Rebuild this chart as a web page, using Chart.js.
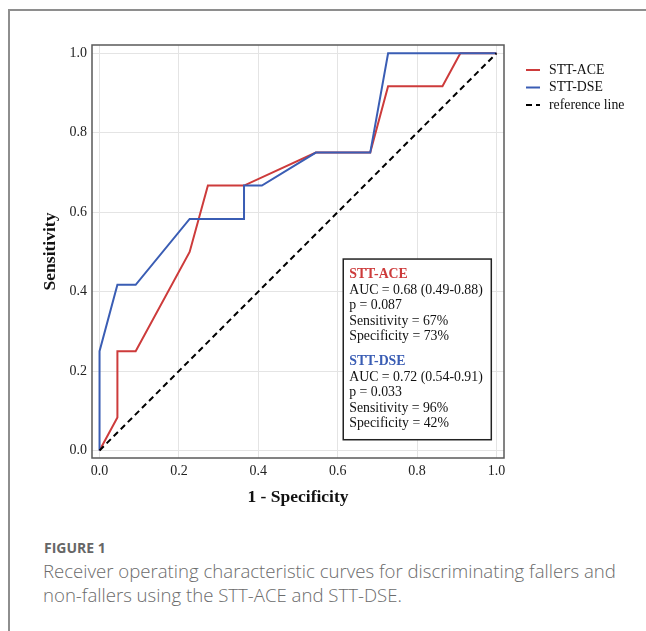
<!DOCTYPE html>
<html>
<head>
<meta charset="utf-8">
<script src="https://cdn.jsdelivr.net/npm/chart.js@4.4.0/dist/chart.umd.min.js"></script>
<style>
body { margin: 0; background: #fff; }
#wrap { position: relative; width: 646px; height: 631px; overflow: hidden; background: #fff; }
#frame { position: absolute; left: 8px; top: 9px; width: 700px; height: 700px; border-top: 2px solid #8e8e8e; border-left: 2px solid #8e8e8e; }
#roc { position: absolute; left: 0; top: 0; }
.fig { position: absolute; left: 44px; top: 538px; font-family: "Open Sans", sans-serif; font-weight: 700; font-size: 14px; line-height: 20px; color: #666; }
.cap { position: absolute; left: 43px; top: 559px; width: 600px; font-family: "Open Sans", sans-serif; font-weight: 300; font-size: 18.6px; line-height: 24px; color: #6b6b6b; white-space: nowrap; }
</style>
</head>
<body>
<div id="wrap">
  <div id="frame"></div>
  <canvas id="roc" width="646" height="520"></canvas>
  <div class="fig">FIGURE 1</div>
  <div class="cap">Receiver operating characteristic curves for discriminating fallers and<br>non-fallers using the STT-ACE and STT-DSE.</div>
</div>
<script>
// ROC points
const seriesNames = ['STT-ACE', 'STT-DSE', 'reference line'];
const fprAce = [0, 0.045, 0.045, 0.091, 0.227, 0.273, 0.364, 0.545, 0.682, 0.727, 0.864, 0.909, 1];
const tprAce = [0, 0.083, 0.25, 0.25, 0.5, 0.667, 0.667, 0.75, 0.75, 0.917, 0.917, 1, 1];
const fprDse = [0, 0, 0.045, 0.091, 0.227, 0.364, 0.364, 0.409, 0.545, 0.682, 0.727, 1];
const tprDse = [0, 0.25, 0.417, 0.417, 0.583, 0.583, 0.667, 0.667, 0.75, 0.75, 1, 1];
const fprRef = [0, 1];
const tprRef = [0, 1];
const tickValues = [0, 0.2, 0.4, 0.6, 0.8, 1.0];
const aceStats = ['AUC = 0.68 (0.49-0.88)', 'p = 0.087', 'Sensitivity = 67%', 'Specificity = 73%'];
const dseStats = ['AUC = 0.72 (0.54-0.91)', 'p = 0.033', 'Sensitivity = 96%', 'Specificity = 42%'];

const RED = '#cd3b3b';
const BLUE = '#3a5db4';
const SERIF = '"Liberation Serif", "Times New Roman", serif';

function toPoints(xs, ys) {
	return xs.map((x, i) => ({ x: x, y: ys[i] }));
}

document.addEventListener("DOMContentLoaded", () => {
	Grafica();
});

//Frame, legend and stats box
const extras = {
	id: 'extras',
	afterDatasetsDraw(chart) {
		const ctx = chart.ctx;
		const xs = chart.scales.x, ys = chart.scales.y;
		// stats box
		const left = xs.getPixelForValue(0.614), right = xs.getPixelForValue(0.987);
		const top = ys.getPixelForValue(0.482), bottom = ys.getPixelForValue(0.027);
		ctx.save();
		ctx.fillStyle = '#fff';
		ctx.fillRect(left, top, right - left, bottom - top);
		ctx.strokeStyle = '#222';
		ctx.lineWidth = 1.5;
		ctx.strokeRect(left, top, right - left, bottom - top);
		ctx.textBaseline = 'middle';
		ctx.textAlign = 'left';
		const tx = left + 6;
		let y = top + 15.5;
		const groups = [[seriesNames[0], RED, aceStats], [seriesNames[1], BLUE, dseStats]];
		groups.forEach((g, gi) => {
			ctx.font = 'bold 13.8px ' + SERIF;
			ctx.fillStyle = g[1];
			ctx.fillText(g[0], tx, y);
			ctx.font = '13.8px ' + SERIF;
			ctx.fillStyle = '#111';
			g[2].forEach(line => {
				y += 15.5;
				ctx.fillText(line, tx, y);
			});
			y += 25;
		});
		ctx.restore();
	},
	afterDraw(chart) {
		const ctx = chart.ctx;
		const a = chart.chartArea;
		ctx.save();
		ctx.strokeStyle = '#5a5a5a';
		ctx.lineWidth = 1.5;
		ctx.strokeRect(a.left, a.top, a.right - a.left, a.bottom - a.top);
		// legend
		ctx.textBaseline = 'middle';
		ctx.font = '13.8px ' + SERIF;
		chart.data.datasets.forEach((ds, i) => {
			const y = 70 + i * 17.5;
			ctx.strokeStyle = ds.borderColor;
			ctx.lineWidth = 2;
			ctx.setLineDash(ds.borderDash || []);
			ctx.beginPath();
			ctx.moveTo(526, y);
			ctx.lineTo(540, y);
			ctx.stroke();
			ctx.setLineDash([]);
			ctx.fillStyle = '#111';
			ctx.fillText(ds.label, 549, y);
		});
		ctx.restore();
	}
};

function Grafica() {
	const canvas2d = document.getElementById('roc').getContext('2d');

	var chart = new Chart(canvas2d, {
		type: 'line',
		data: {
			datasets: [
				{ label: seriesNames[0], data: toPoints(fprAce, tprAce), borderColor: RED, borderWidth: 2, order: 2 },
				{ label: seriesNames[1], data: toPoints(fprDse, tprDse), borderColor: BLUE, borderWidth: 2, order: 1 },
				{ label: seriesNames[2], data: toPoints(fprRef, tprRef), borderColor: '#000', borderWidth: 2, borderDash: [6, 4], order: 0 }
			]
		},
		options: {
			responsive: false,
			animation: false,
			events: [],
			layout: { padding: { left: 0, top: 45, right: 142, bottom: 0 } },
			elements: { point: { radius: 0 }, line: { tension: 0, fill: false } },
			plugins: { legend: { display: false }, tooltip: { enabled: false } },
			scales: {
				x: {
					type: 'linear',
					min: -0.019,
					max: 1.019,
					afterFit: s => { s.height = 62; },
					afterBuildTicks: s => { s.ticks = tickValues.map(v => ({ value: v })); },
					grid: { color: '#e4e4e4', lineWidth: 1, drawTicks: false },
					border: { display: false },
					ticks: {
						padding: 5,
						maxRotation: 0,
						color: '#222',
						font: { family: SERIF, size: 14 },
						callback: v => Number(v).toFixed(1)
					},
					title: {
						display: true,
						text: '1 - Specificity',
						color: '#111',
						font: { family: SERIF, size: 17.5, weight: 'bold' },
						padding: { top: 0, bottom: 12 }
					}
				},
				y: {
					type: 'linear',
					min: -0.019,
					max: 1.021,
					afterFit: s => { s.width = 92; },
					afterBuildTicks: s => { s.ticks = tickValues.map(v => ({ value: v })); },
					grid: { color: '#e4e4e4', lineWidth: 1, drawTicks: false },
					border: { display: false },
					ticks: {
						padding: 5,
						color: '#222',
						font: { family: SERIF, size: 14 },
						callback: v => Number(v).toFixed(1)
					},
					title: {
						display: true,
						text: 'Sensitivity',
						color: '#111',
						font: { family: SERIF, size: 17.5, weight: 'bold' },
						padding: { top: 40, bottom: 0 }
					}
				}
			}
		},
		plugins: [extras]
	});
}
</script>
</body>
</html>
